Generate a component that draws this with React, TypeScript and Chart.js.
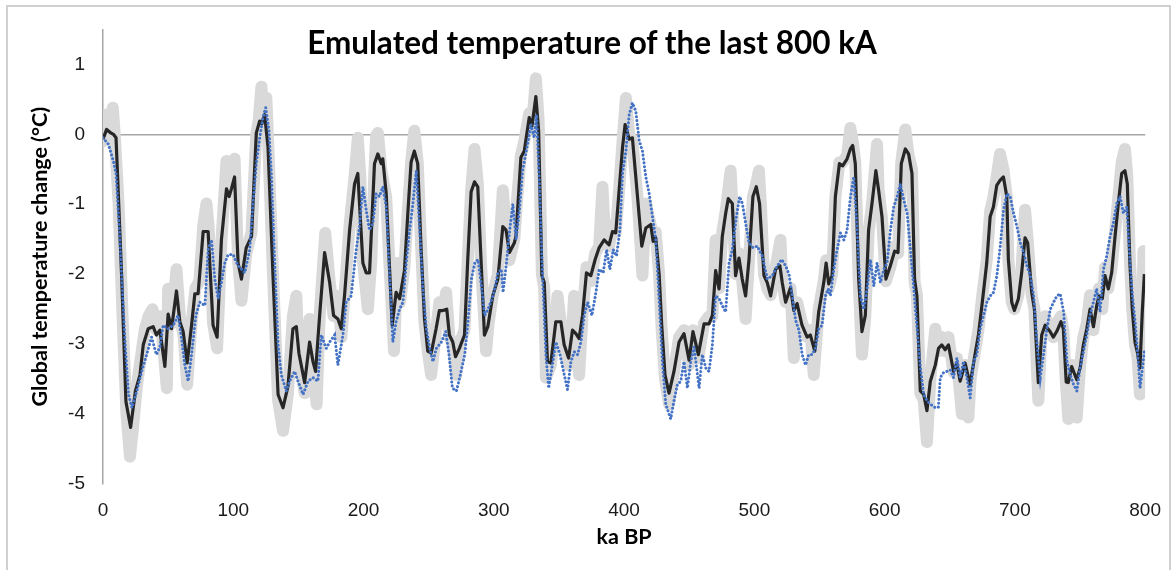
import React, { useEffect, useRef } from "react";
import { Chart, registerables } from "chart.js";

Chart.register(...registerables);

const chartTitle = "Emulated temperature of the last 800 kA";
const xAxisTitle = "ka BP";
const yAxisTitle = "Global temperature change (°C)";
const xTickValues = [0, 100, 200, 300, 400, 500, 600, 700, 800];
const yTickValues = [-5, -4, -3, -2, -1, 0, 1];

// [ka BP, °C] — light grey spread of the emulator
const emulatorSpread: [number, number][] = [
  [0, -0.1], [1, 0.28], [3, 0.0], [5, 0.15], [7.5, 0.38], [9, 0.0], [12, -1.0], [15, -2.6], [18, -4.0], [20.7, -4.61],
  [23, -4.2], [26, -3.6], [29, -3.2], [32, -2.8], [35, -2.6], [38, -2.5], [41, -2.8], [44, -2.6], [47.5, -3.3], [49, -3.63],
  [50, -2.21], [53, -2.7], [56.4, -1.93], [59, -2.6], [62, -2.9], [64.6, -3.58], [68, -2.7], [71, -2.2], [74, -2.1], [77, -1.3],
  [79.4, -0.99], [81, -1.3], [84.5, -2.7], [87.6, -3.06], [91, -1.5], [94.8, -0.38], [97, -0.85], [99, -0.6], [101, -0.35], [103.7, -1.8],
  [106.3, -2.38], [110, -1.7], [114, -1.4], [117.7, 0.0], [119.5, 0.2], [121.6, 0.68], [123.5, 0.2], [125.4, 0.52], [127, -0.2], [130.5, -2.0],
  [134.4, -3.8], [138.2, -4.24], [142, -3.7], [145.8, -2.6], [148.4, -2.31], [150.4, -3.2], [154.8, -3.7], [158.6, -2.64], [161.2, -3.3], [164, -3.86],
  [166.3, -2.6], [170.6, -1.41], [174, -2.1], [177, -2.6], [180.3, -2.31], [183, -2.9], [185.4, -2.3], [189.3, -1.3], [193.1, -0.6], [195.6, -0.05],
  [197.5, -0.6], [199.5, -1.8], [203.3, -2.5], [206, -1.8], [208.4, -0.5], [209.7, -0.02], [211, 0.02], [213.6, -0.5], [217.4, -0.9], [220, -1.9],
  [223.4, -3.1], [226, -1.84], [228, -2.4], [231.4, -1.9], [234, -1.1], [236.5, -0.4], [239, 0.05], [241.6, -0.4], [244.2, -1.6], [246.8, -2.7],
  [249.3, -3.1], [251.9, -3.44], [255.7, -2.8], [258.2, -2.4], [260.8, -2.6], [263.4, -2.26], [265.9, -2.9], [268.5, -3.0], [271.1, -3.44], [273.6, -3.0],
  [277.5, -2.8], [280, -1.8], [282.6, -0.8], [285.2, -0.21], [287.7, -0.7], [290.3, -1.9], [294.1, -3.1], [296, -2.7], [299.2, -2.3], [303.1, -2.0],
  [306.9, -0.8], [309.4, -1.4], [312, -1.8], [315.8, -1.5], [318, -0.9], [320.8, -0.3], [323.4, -0.1], [327.2, 0.3], [329.3, 0.1], [332.3, 0.8],
  [334.4, 0.2], [336.9, -2.0], [338.7, -2.2], [340, -3.48], [343.8, -3.3], [347.6, -2.6], [348.9, -2.31], [351.5, -2.7], [354, -3.0], [357.4, -3.3],
  [360.4, -2.7], [361.7, -2.31], [363, -2.8], [365.5, -3.44], [368.1, -2.6], [371.1, -1.9], [374.5, -2.1], [377.8, -1.7], [380.9, -1.6], [383.4, -0.75],
  [385.5, -1.5], [388.5, -1.6], [391.1, -1.3], [393.6, -1.4], [396.2, -0.8], [398.8, -0.1], [401.4, 0.52], [403.9, 0.0], [406.4, -0.1], [410.3, -0.9],
  [414.1, -2.02], [416.7, -0.99], [420.5, -1.3], [422.3, -1.5], [424.3, -1.4], [426.9, -2.0], [428.9, -2.8], [431.4, -3.5], [434.5, -3.86], [438.3, -3.4],
  [442.2, -2.9], [446, -2.8], [449.9, -3.3], [452.9, -2.8], [457, -3.2], [461.4, -2.7], [465.2, -2.6], [467.8, -2.6], [470.3, -1.51], [472.9, -2.2],
  [475.4, -1.4], [478, -1.1], [481.8, -0.52], [483.1, -1.0], [485.6, -2.0], [488.2, -1.7], [490.7, -2.1], [493.3, -2.64], [495.9, -1.8], [498.9, -0.9],
  [501.5, -0.7], [503.5, -0.52], [505, -1.0], [507.4, -2.0], [509.9, -2.2], [512.5, -2.3], [516.3, -1.9], [520.1, -1.51], [521.4, -2.1], [524, -2.4],
  [527.8, -2.2], [530.3, -3.2], [532.8, -2.4], [536.6, -2.7], [540.5, -2.9], [543, -2.8], [545.6, -3.44], [549.4, -2.5], [553.3, -2.1], [555.1, -1.8],
  [557.1, -2.2], [559.7, -2.0], [562.2, -0.9], [565.3, -0.4], [567.8, -0.4], [571.2, -0.3], [573.7, 0.09], [575.5, -0.1], [577.5, -0.4], [580.1, -2.1],
  [582.6, -3.15], [585.2, -2.6], [587.7, -1.4], [590.3, -1.0], [594.2, -0.14], [595.4, -0.8], [598, -1.2], [601, -2.1], [604.4, -1.9], [607.7, -1.6],
  [610.3, -1.7], [612.8, -0.4], [615.9, 0.07], [618.4, -0.3], [621, -0.5], [623, -2.1], [624.8, -2.3], [627.4, -3.7], [630, -3.8], [632.5, -4.4],
  [635.1, -3.5], [638.9, -2.78], [641.4, -3.1], [643.9, -2.9], [646.5, -3.1], [649, -2.9], [652.9, -3.4], [655.4, -3.2], [659.3, -4.0], [661.8, -3.3],
  [664.3, -4.05], [666, -3.5], [669.4, -3.1], [672, -2.8], [675, -2.3], [678.4, -1.8], [681, -1.1], [683.5, -0.9], [686.1, -0.6], [688.6, -0.28],
  [691.2, -0.5], [693.8, -0.9], [695, -1.8], [697.6, -2.4], [699.6, -2.5], [702.7, -2.3], [705.2, -1.9], [707.8, -1.08], [709.8, -1.5], [712.9, -2.3],
  [715, -2.5], [718, -3.81], [720.6, -2.8], [723.2, -2.6], [727, -2.8], [729.5, -2.9], [732.1, -2.7], [735.4, -2.6], [737.2, -2.8], [739, -3.5],
  [741, -4.07], [743.6, -3.3], [746, -3.6], [747.5, -4.05], [750.1, -3.3], [752.6, -2.9], [755.2, -2.7], [757.7, -2.3], [760.3, -2.8], [762.8, -2.4],
  [764.6, -2.2], [767.1, -2.5], [769.2, -1.9], [771.7, -2.2], [774.3, -1.9], [776.9, -1.4], [779.4, -0.9], [782, -0.4], [784.5, -0.21], [786.3, -0.6],
  [788.3, -1.8], [790.1, -2.5], [792.2, -3.0], [794.2, -3.2], [796, -3.72], [797.8, -2.5], [798.7, -1.67], [799.4, -1.9],
];

// [ka BP, °C] — black emulated temperature
const emulatedTemp: [number, number][] = [
  [0, -0.07], [2.8, 0.07], [6, 0.02], [8, 0.0], [10, -0.05], [14.3, -2.02], [17.6, -3.82], [21.2, -4.19], [24.9, -3.67], [28.4, -3.44],
  [30.9, -3.01], [34.7, -2.78], [38.5, -2.75], [41, -2.87], [43.7, -2.8], [47.5, -3.32], [50, -2.57], [52.6, -2.78], [56.4, -2.24], [59, -2.68],
  [61.5, -2.82], [64.6, -3.27], [68, -2.73], [70.5, -2.28], [73, -2.28], [76.9, -1.39], [80.7, -1.39], [84.5, -2.73], [87.6, -2.9], [90.9, -1.51],
  [94.8, -0.78], [96.8, -0.89], [98.6, -0.78], [101, -0.61], [103.7, -1.84], [106.3, -2.07], [110, -1.62], [114, -1.46], [117.7, 0.02], [120.3, 0.19],
  [122, 0.15], [124.1, 0.28], [126.7, -0.19], [130.5, -2.02], [134.4, -3.72], [138.2, -3.91], [142, -3.6], [145.8, -2.78], [148.4, -2.75], [150.4, -3.13],
  [154.8, -3.55], [158.6, -2.97], [161.2, -3.25], [163.2, -3.39], [166.3, -2.59], [170.1, -1.69], [174, -2.12], [177, -2.59], [180.3, -2.64], [182.9, -2.78],
  [185.4, -2.31], [189.3, -1.37], [193.1, -0.71], [195.6, -0.56], [199.5, -1.84], [202, -1.98], [204.6, -1.98], [208.4, -0.42], [211, -0.28], [213.6, -0.42],
  [214.8, -0.35], [217.4, -0.85], [220, -1.93], [222, -2.73], [225, -2.26], [227.7, -2.35], [231.4, -1.95], [234, -1.13], [236.5, -0.4], [239, -0.24],
  [241.6, -0.42], [244.2, -1.65], [246.8, -2.64], [249.3, -3.1], [251.9, -3.13], [255.7, -2.78], [258.2, -2.52], [260.8, -2.52], [263.9, -2.5], [265.9, -2.87],
  [268.5, -2.97], [270.6, -3.18], [273.6, -3.06], [277.5, -2.87], [280, -1.79], [282.6, -0.82], [285.2, -0.68], [287.7, -0.75], [290.3, -1.84], [292.8, -2.87],
  [295.4, -2.75], [299.2, -2.31], [303.1, -2.07], [306.9, -1.32], [309.4, -1.37], [312, -1.69], [315.8, -1.55], [317, -1.46], [320.8, -0.33], [323.4, -0.24],
  [327.2, 0.24], [329.3, 0.12], [332.3, 0.54], [334.4, 0.05], [336.9, -2.02], [338.7, -2.12], [341.2, -3.25], [343.8, -3.27], [347.6, -2.68], [351.5, -2.68],
  [354, -3.01], [357.4, -3.2], [360.4, -2.8], [363, -2.85], [365.5, -2.92], [368.1, -2.59], [371.1, -1.98], [374.5, -2.02], [377.8, -1.79], [380.9, -1.62],
  [384.7, -1.51], [388.5, -1.58], [391.1, -1.39], [393.6, -1.41], [396.2, -0.8], [398.8, -0.19], [400.8, 0.14], [403.9, -0.07], [406.4, -0.05], [410.3, -0.89],
  [413.6, -1.6], [416.7, -1.34], [420.5, -1.29], [422.3, -1.53], [424.3, -1.48], [426.9, -2.0], [428.9, -2.73], [431.4, -3.44], [434.5, -3.7], [438.3, -3.39],
  [442.2, -2.97], [446, -2.85], [449.9, -3.23], [452.9, -2.82], [457, -3.15], [461.4, -2.71], [465.2, -2.71], [467.8, -2.59], [470.3, -1.95], [472.9, -2.21],
  [475.4, -1.46], [478, -1.13], [480, -0.92], [483.1, -0.99], [485.6, -2.02], [488.2, -1.77], [490.7, -2.07], [493.3, -2.31], [495.9, -1.79], [498.9, -0.89],
  [501.5, -0.75], [504, -0.99], [507.4, -2.02], [509.9, -2.12], [512.5, -2.31], [516.3, -1.93], [519.6, -1.88], [521.4, -2.12], [524, -2.4], [527.8, -2.19],
  [530.3, -2.52], [532.8, -2.42], [536.6, -2.73], [540.5, -2.9], [543, -2.87], [546.4, -3.1], [549.4, -2.54], [553.3, -2.12], [555.1, -1.84], [557.1, -2.14],
  [559.7, -2.02], [562.2, -0.89], [565.3, -0.42], [567.8, -0.45], [571.2, -0.35], [573.7, -0.21], [575.5, -0.16], [577.5, -0.42], [580.1, -2.07], [582.6, -2.82],
  [585.2, -2.59], [587.7, -1.37], [590.3, -0.99], [593.3, -0.52], [595.4, -0.8], [598, -1.18], [601, -2.07], [604.4, -1.88], [607.7, -1.67], [610.3, -1.69],
  [612.8, -0.42], [615.9, -0.21], [618.4, -0.28], [621, -0.56], [623, -2.07], [624.8, -2.31], [627.4, -3.67], [630, -3.72], [632.5, -3.95], [635.1, -3.53],
  [638.9, -3.3], [641.4, -3.06], [643.9, -3.01], [646.5, -3.08], [649, -3.01], [652.9, -3.39], [655.4, -3.27], [658, -3.53], [661.8, -3.27], [665.6, -3.58],
  [669.4, -3.15], [672, -2.87], [675, -2.4], [678.4, -1.84], [681, -1.18], [683.5, -1.04], [686.1, -0.73], [688.6, -0.66], [691.2, -0.61], [693.8, -0.89],
  [695, -1.79], [697.6, -2.4], [699.6, -2.52], [702.7, -2.35], [705.2, -1.98], [707.8, -1.48], [709.8, -1.55], [712.9, -2.26], [715, -2.5], [718, -3.55],
  [720.6, -2.87], [723.2, -2.73], [727, -2.82], [729.5, -2.9], [732.1, -2.82], [735.4, -2.68], [737.2, -2.78], [739.4, -3.54], [741, -3.55], [743.6, -3.32],
  [747.5, -3.51], [750.1, -3.34], [752.6, -3.01], [755.2, -2.78], [757.7, -2.5], [760.3, -2.75], [762.8, -2.45], [764.6, -2.31], [767.1, -2.35], [769.2, -2.02],
  [771.7, -2.21], [774.3, -1.98], [776.9, -1.46], [779.4, -0.99], [782, -0.56], [784.5, -0.52], [786.3, -0.71], [788.3, -1.84], [790.1, -2.5], [792.2, -2.97],
  [794.2, -3.13], [796, -3.34], [797.8, -2.54], [799.4, -2.0],
];

// [ka BP, °C] — blue dotted reference
const referenceTemp: [number, number][] = [
  [0, -0.05], [4.1, -0.14], [7.9, -0.38], [10, -0.56], [12.6, -1.37], [14.3, -2.02], [17, -3.01], [19.6, -3.72], [22.2, -3.91], [26, -3.67],
  [29.7, -3.39], [33.5, -3.15], [37.3, -2.9], [41, -3.15], [43.7, -3.04], [46.2, -2.73], [50, -2.78], [53.9, -2.73], [57.7, -2.59], [60.3, -2.92],
  [62.8, -3.3], [65.4, -3.53], [68, -3.15], [71.3, -2.59], [74.3, -2.4], [78.2, -2.45], [80.7, -1.65], [83.3, -1.51], [85.8, -2.07], [88.4, -2.35],
  [90.9, -2.12], [93.5, -1.84], [96.1, -1.72], [99.9, -1.72], [103.7, -1.88], [106.5, -1.93], [108.8, -1.98], [112.6, -1.65], [115.2, -0.99], [117.7, -0.42],
  [120.3, -0.05], [122.8, 0.24], [124.9, 0.38], [127.4, 0.05], [129.2, -0.56], [131.8, -1.84], [134.4, -3.01], [136.9, -3.44], [140.7, -3.67], [143.3, -3.53],
  [147.1, -3.39], [149.7, -3.53], [153.6, -3.72], [157.4, -3.53], [161.2, -3.48], [165, -3.53], [167.6, -2.87], [171.4, -3.06], [174, -2.97], [177.8, -2.87],
  [180.3, -3.3], [184.2, -2.87], [186.7, -2.4], [190.5, -2.31], [194.4, -1.65], [196.9, -1.32], [199.5, -0.75], [202, -1.08], [204.6, -1.37], [207.2, -1.27],
  [209.7, -0.85], [212.2, -0.89], [214.8, -0.75], [217.4, -1.04], [220, -2.02], [222.5, -2.97], [225, -2.68], [227.7, -2.5], [230.3, -2.4], [232.8, -1.84],
  [235.4, -1.37], [237.9, -0.99], [240.5, -0.52], [243.1, -1.37], [245.6, -2.21], [248.2, -2.78], [250.8, -3.06], [253.3, -3.25], [255.9, -3.06], [259.8, -2.97],
  [263.1, -2.82], [265.6, -3.15], [268.2, -3.63], [271.3, -3.67], [273.8, -3.48], [277.7, -3.15], [280.2, -2.68], [282.8, -2.07], [285.4, -1.84], [287.9, -1.79],
  [290.5, -2.17], [293, -2.59], [295.6, -2.5], [299.4, -2.31], [303.3, -1.98], [305.8, -1.93], [307.1, -2.26], [309.7, -1.84], [312.2, -1.37], [314.6, -1.0],
  [317.1, -1.5], [319.6, -1.1], [322.1, -0.52], [325.9, -0.14], [328.5, 0.14], [331, -0.05], [332.8, 0.28], [334.9, -0.66], [337.5, -2.07], [340, -3.15],
  [342.1, -3.63], [344.6, -3.34], [347.7, -2.97], [350.8, -3.15], [354.1, -3.44], [356.6, -3.65], [359.2, -3.25], [361.8, -3.11], [364.3, -3.15], [366.9, -2.97],
  [369.4, -2.59], [372, -2.4], [375.3, -2.59], [378.4, -2.26], [380.9, -1.93], [384, -1.98], [386.6, -1.65], [389.1, -1.93], [391.7, -1.65], [394.2, -1.74],
  [396.8, -1.37], [398.8, -0.56], [401.4, -0.24], [403.9, 0.28], [406.4, 0.45], [409, 0.33], [411.6, -0.09], [414.1, -0.24], [416.7, -0.61], [419.3, -0.85],
  [421.8, -1.18], [424.3, -1.5], [427, -2.4], [429.4, -3.25], [432, -3.86], [435.8, -4.07], [438.3, -3.81], [440.9, -3.58], [443.5, -3.53], [446, -3.25],
  [448.6, -3.63], [451.2, -3.25], [453.7, -3.04], [457.6, -3.63], [460.1, -3.15], [462.7, -3.34], [465.2, -3.39], [467.8, -3.01], [470.3, -2.31], [472.9, -2.35],
  [475.4, -2.45], [478, -2.54], [480.6, -1.84], [483.1, -1.65], [486.2, -1.18], [488.7, -0.89], [490.8, -0.99], [493.3, -1.27], [495.9, -1.55], [498.9, -1.62],
  [502.3, -1.6], [506.1, -1.74], [510, -2.07], [513.8, -2.02], [517.6, -1.88], [521, -1.79], [524, -1.88], [526.6, -2.0], [529.1, -2.31], [531.7, -2.66],
  [534.2, -2.8], [536.7, -3.15], [539.3, -3.3], [541.8, -3.15], [544.4, -3.15], [546.9, -3.06], [549.5, -2.78], [552, -2.73], [554.6, -2.31], [556.7, -2.21],
  [558.4, -2.31], [561, -1.93], [563.5, -1.65], [566.1, -1.41], [568.7, -1.51], [571.2, -1.37], [573.8, -0.89], [576.3, -0.61], [578.9, -1.37], [581.5, -2.31],
  [584, -2.5], [586.6, -2.21], [589.1, -1.79], [591.7, -2.17], [594.2, -1.84], [596.8, -2.12], [599.4, -1.93], [601.9, -1.84], [604.5, -1.37], [607, -1.04],
  [609.6, -0.89], [612.1, -0.71], [614.7, -0.94], [617.3, -1.13], [619.8, -1.65], [622.4, -2.21], [624.9, -2.78], [627.5, -3.34], [630, -3.72], [632.6, -3.81],
  [635.2, -3.86], [639, -3.91], [641.3, -3.9], [642.7, -3.48], [645.2, -3.41], [647.8, -3.39], [650.4, -3.37], [652.9, -3.48], [655.5, -3.2], [658, -3.48],
  [660.6, -3.25], [663.2, -3.48], [665.7, -3.77], [668.3, -3.25], [670.8, -3.15], [673.4, -2.78], [676, -2.59], [678.5, -2.4], [681.1, -2.31], [683.6, -2.26],
  [686.2, -2.02], [688.8, -1.6], [691.3, -1.08], [693.9, -0.85], [696.4, -0.89], [699, -1.13], [701.6, -1.32], [704.1, -1.55], [706.7, -1.69], [709.2, -1.88],
  [711.8, -2.02], [714.4, -2.31], [716.9, -2.97], [719.5, -3.48], [722, -3.15], [724.6, -2.78], [727.2, -2.5], [729.7, -2.4], [732.3, -2.31], [734.8, -2.28],
  [737.4, -2.54], [740, -3.25], [742.5, -3.44], [745.1, -3.58], [747.6, -3.67], [750.1, -3.34], [752.6, -3.11], [755.2, -2.87], [757.7, -2.59], [760.3, -2.4],
  [762.8, -2.21], [765.4, -2.54], [768, -1.93], [770.5, -1.74], [773.1, -1.46], [775.6, -1.27], [778.2, -0.99], [780.8, -0.89], [783.3, -1.13], [785.9, -1.04],
  [788.4, -1.84], [790.2, -2.31], [792.3, -2.68], [794.3, -3.15], [796.1, -3.63], [797.9, -3.34], [799.4, -3.11],
];

const toPoints = (s: [number, number][]) => s.map(([x, y]) => ({ x, y }));

export default function App() {
  const canvasRef = useRef<HTMLCanvasElement>(null);

  useEffect(() => {
    if (!canvasRef.current) return;
    const chart = new Chart(canvasRef.current, {
      type: "line",
      data: {
        datasets: [
          {
            label: "Reference",
            data: toPoints(referenceTemp),
            borderColor: "#4472C4",
            borderWidth: 3,
            borderDash: [0.1, 3.8],
            borderCapStyle: "round",
            pointRadius: 0,
            tension: 0,
            fill: false,
          },
          {
            label: "Emulated",
            data: toPoints(emulatedTemp),
            borderColor: "#262626",
            borderWidth: 3.2,
            borderJoinStyle: "round",
            pointRadius: 0,
            tension: 0,
            fill: false,
          },
          {
            label: "Spread",
            data: toPoints(emulatorSpread),
            borderColor: "#d9d9d9",
            borderWidth: 12,
            borderJoinStyle: "round",
            borderCapStyle: "round",
            pointRadius: 0,
            tension: 0,
            fill: false,
          },
        ],
      },
      options: {
        animation: false,
        responsive: false,
        events: [],
        layout: { padding: { left: 20, top: 24, right: 30, bottom: 0 } },
        plugins: {
          legend: { display: false },
          tooltip: { enabled: false },
          title: { display: false },
        },
        scales: {
          x: {
            type: "linear",
            min: 0,
            max: 800,
            afterBuildTicks: (scale: any) => {
              scale.ticks = xTickValues.map((v) => ({ value: v }));
            },
            afterFit: (scale: any) => {
              scale.height = 86;
            },
            grid: { display: false, drawTicks: false },
            border: { display: false },
            ticks: {
              padding: 15,
              maxRotation: 0,
              color: "#1a1a1a",
              font: { family: "'Liberation Sans', Arial, sans-serif", size: 19 },
            },
            title: {
              display: true,
              text: xAxisTitle,
              color: "#000",
              font: { family: "Lato, sans-serif", size: 21.5, weight: "bold" },
              padding: { top: 0, bottom: 20 },
            },
          },
          y: {
            type: "linear",
            min: -5,
            max: 1.5,
            afterBuildTicks: (scale: any) => {
              scale.ticks = yTickValues.map((v) => ({ value: v }));
            },
            afterFit: (scale: any) => {
              scale.width = 83;
            },
            grid: {
              drawTicks: false,
              lineWidth: 1.5,
              color: (ctx: any) => (ctx.tick && ctx.tick.value === 0 ? "#a6a6a6" : "rgba(0,0,0,0)"),
            },
            border: { display: true, color: "#a6a6a6", width: 1.5 },
            ticks: {
              padding: 18,
              color: "#1a1a1a",
              font: { family: "'Liberation Sans', Arial, sans-serif", size: 19 },
            },
            title: {
              display: true,
              text: yAxisTitle,
              color: "#000",
              font: { family: "Lato, sans-serif", size: 21.5, weight: "bold" },
              padding: { top: 7, bottom: 0 },
            },
          },
        },
      },
    });
    return () => chart.destroy();
  }, []);

  return (
    <div style={{ position: "absolute", left: 0, top: 0, width: 1176, height: 570, overflow: "hidden", background: "#fff" }}>
      <div
        style={{
          position: "absolute",
          left: 6,
          top: 5,
          width: 1165,
          height: 600,
          border: "2px solid #d0d0d0",
          boxSizing: "border-box",
        }}
      />
      <canvas ref={canvasRef} width={1176} height={570} style={{ position: "absolute", left: 0, top: 0 }} />
      <div
        style={{
          position: "absolute",
          left: 0,
          top: 24,
          width: 1184,
          textAlign: "center",
          fontFamily: "Lato, sans-serif",
          fontWeight: "bold",
          fontSize: 31.5,
          lineHeight: "36px",
          color: "#000",
        }}
      >
        {chartTitle}
      </div>
    </div>
  );
}
